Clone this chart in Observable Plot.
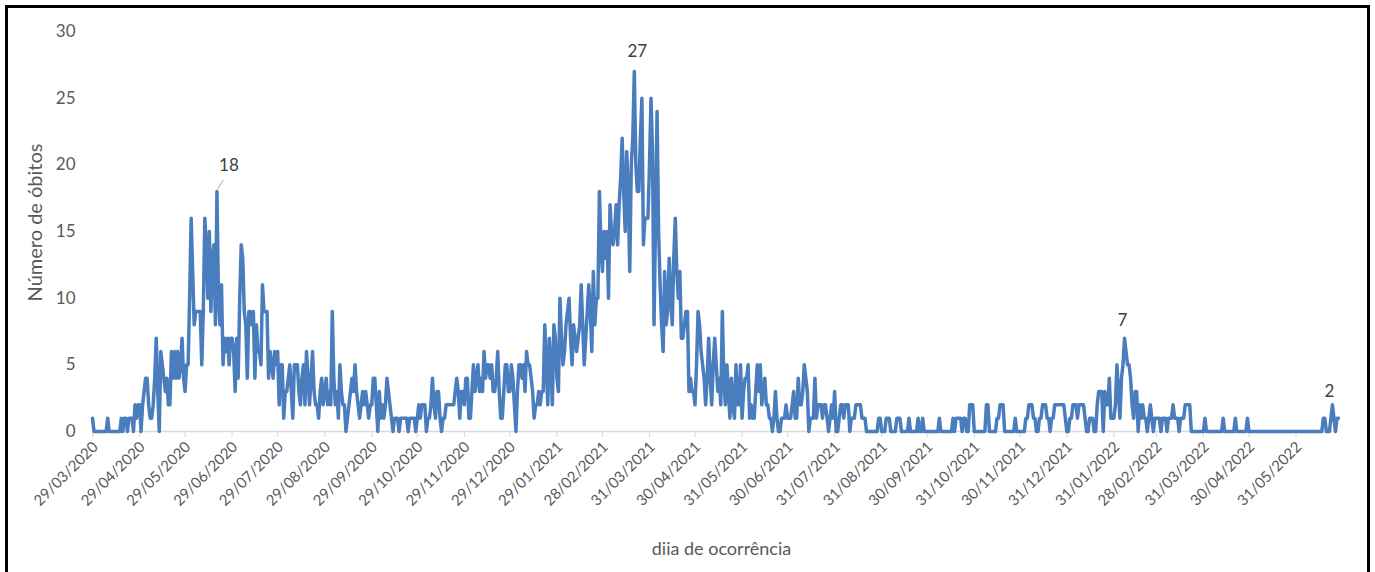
<!DOCTYPE html>
<html><head><meta charset="utf-8">
<script src="https://cdn.jsdelivr.net/npm/d3@7"></script>
<script src="https://cdn.jsdelivr.net/npm/@observablehq/plot@0.6"></script>
<style>
html,body{margin:0;padding:0;background:#fff;}
#wrap{position:relative;width:1375px;height:572px;overflow:hidden;background:#fff;}
#frame{position:absolute;left:5px;top:5px;width:1359px;height:600px;border:3px solid #000;}
#chart{position:absolute;left:0;top:0;}
</style></head><body>
<div id="wrap"><div id="frame"></div><div id="chart"></div></div>
<script>
// Daily deaths, one array per calendar month (first month starts 29/03/2020)
const mar2020 = [1,0,0];
const apr2020 = [0,0,0,0,0,0,0,1,0,0,0,0,0,0,0,0,1,0,1,1,0,1,1,1,0,2,1,2,2,0];
const may2020 = [2,3,4,4,2,1,1,2,4,7,3,0,6,5,4,3,4,2,2,6,4,6,4,6,4,5,7,4,3,5,5];
const jun2020 = [10,16,12,8,9,9,9,9,5,9,16,14,10,15,9,13,14,8,18,10,8,11,5,7,6,7,5,7,7,6];
const jul2020 = [3,7,4,10,14,13,9,8,4,9,9,8,9,4,8,6,6,5,11,9,9,9,4,6,5,4,6,5,6,2,5];
const aug2020 = [5,1,3,3,4,5,3,1,5,5,5,3,2,4,5,2,6,4,2,4,6,3,2,2,1,3,4,2,3,4,2];
const sep2020 = [3,2,9,4,2,3,1,5,3,2,2,0,1,2,3,4,3,5,3,2,1,2,3,2,3,2,1,2,2,4];
const oct2020 = [4,2,0,3,1,2,1,2,4,3,2,1,0,1,1,1,0,1,1,1,1,1,0,1,1,1,1,0,1,2,1];
const nov2020 = [2,2,2,0,1,1,2,4,2,1,3,3,1,0,1,1,2,2,2,2,2,2,3,4,3,1,3,3,2,4];
const dec2020 = [4,1,1,3,5,3,4,5,3,4,3,6,4,5,5,4,5,3,3,4,6,3,1,1,3,5,5,3,3,5,4];
const jan2021 = [2,0,3,5,5,4,5,3,6,5,5,4,3,1,2,2,3,2,3,3,8,5,2,7,5,2,8,7,4,3,10];
const feb2021 = [7,5,6,8,9,10,7,5,8,7,6,7,8,11,8,5,7,9,11,9,6,12,8,10,10,18,14,12];
const mar2021 = [15,13,15,10,17,15,14,15,17,14,17,19,22,18,15,21,18,12,20,22,27,20,18,18,22,25,14,16,16,16,20];
const apr2021 = [25,21,8,16,24,15,11,8,6,12,8,9,13,10,8,13,16,12,10,12,7,7,8,9,9,3,4,3,3,2];
const may2021 = [5,9,8,6,5,4,2,4,7,4,2,5,7,5,3,4,2,9,4,2,5,3,1,4,2,1,5,2,2,5,1];
const jun2021 = [3,4,4,5,1,2,1,1,3,5,3,5,2,3,4,2,2,1,1,0,1,3,1,0,0,1,1,1,2,1];
const jul2021 = [1,1,2,3,1,1,4,2,2,3,5,4,3,0,1,1,1,4,1,2,2,2,1,2,2,1,0,1,2,1,3];
const aug2021 = [0,0,1,2,2,1,2,2,2,0,1,1,1,2,2,2,2,1,1,1,0,0,0,0,0,0,0,0,1,1,0];
const sep2021 = [0,0,1,1,1,0,0,0,0,1,1,1,0,0,0,0,0,1,0,0,0,0,0,1,0,0,1,0,0,0];
const oct2021 = [0,0,0,0,0,0,0,1,0,0,0,0,0,0,0,0,1,0,1,1,1,1,0,1,1,0,0,2,2,2,0];
const nov2021 = [0,0,0,0,0,0,0,2,2,0,0,0,0,0,1,1,2,2,2,0,0,0,0,0,0,0,1,0,0,0];
const dec2021 = [0,0,0,1,1,2,2,2,1,1,0,0,1,1,2,2,2,1,1,0,1,1,2,2,2,2,2,2,2,1,0];
const jan2022 = [0,1,1,2,2,2,1,2,2,2,2,1,0,0,1,1,1,0,0,2,3,3,3,0,3,2,2,4,1,1,1];
const feb2022 = [2,5,3,1,4,5,7,6,5,5,4,2,1,3,3,0,2,1,2,1,1,0,1,2,1,0,1,1];
const mar2022 = [1,1,0,1,1,1,0,1,1,1,2,1,1,1,0,1,1,1,2,2,2,2,0,0,0,0,0,0,0,0,0];
const apr2022 = [1,0,0,0,0,0,0,0,0,0,0,0,1,0,0,0,0,0,0,0,1,0,0,0,0,0,0,0,1,0];
const may2022 = [0,0,0,0,0,0,0,0,0,0,0,0,0,0,0,0,0,0,0,0,0,0,0,0,0,0,0,0,0,0,0];
const jun2022 = [0,0,0,0,0,0,0,0,0,0,0,0,0,0,0,0,0,1,1,0,0,0,1,2,1,0,1,1];

const monthStarts = ["2020-03-29","2020-04-01","2020-05-01","2020-06-01","2020-07-01","2020-08-01","2020-09-01","2020-10-01","2020-11-01","2020-12-01",
  "2021-01-01","2021-02-01","2021-03-01","2021-04-01","2021-05-01","2021-06-01","2021-07-01","2021-08-01","2021-09-01","2021-10-01","2021-11-01","2021-12-01",
  "2022-01-01","2022-02-01","2022-03-01","2022-04-01","2022-05-01","2022-06-01"];
const monthValues = [mar2020,apr2020,may2020,jun2020,jul2020,aug2020,sep2020,oct2020,nov2020,dec2020,
  jan2021,feb2021,mar2021,apr2021,may2021,jun2021,jul2021,aug2021,sep2021,oct2021,nov2021,dec2021,
  jan2022,feb2022,mar2022,apr2022,may2022,jun2022];

const tickLabels = ["29/03/2020","29/04/2020","29/05/2020","29/06/2020","29/07/2020","29/08/2020","29/09/2020","29/10/2020","29/11/2020","29/12/2020",
  "29/01/2021","28/02/2021","31/03/2021","30/04/2021","31/05/2021","30/06/2021","31/07/2021","31/08/2021","30/09/2021","31/10/2021","30/11/2021","31/12/2021",
  "31/01/2022","28/02/2022","31/03/2022","30/04/2022","31/05/2022"];
const yTicks = [0,5,10,15,20,25,30];

const peakLabels = ["18","27","7","2"];
const peakDates = ["2020-06-19","2021-03-21","2022-02-07","2022-06-24"];
const peakValues = [18,27,7,2];

const DAY = 86400000;
const data = [];
monthStarts.forEach((s, m) => {
  const t0 = Date.parse(s + "T00:00:00Z");
  monthValues[m].forEach((v, i) => data.push({date: new Date(t0 + i * DAY), value: v}));
});
const parseDMY = s => { const [d, mo, y] = s.split("/").map(Number); return new Date(Date.UTC(y, mo - 1, d)); };
const tickDates = tickLabels.map(parseDMY);
const labelOf = new Map(tickDates.map((d, i) => [+d, tickLabels[i]]));
const peaks = peakLabels.map((l, i) => ({label: l, date: new Date(peakDates[i] + "T00:00:00Z"), value: peakValues[i]}));
const peakDx = [12, 3, -2, -3];
const peakDy = [-26, -20, -18, -13];

const font = "Lato, 'Open Sans', sans-serif";
const chart = Plot.plot({
  width: 1375, height: 572,
  marginLeft: 92, marginRight: 37, marginTop: 31, marginBottom: 141,
  style: {fontFamily: font, background: "transparent", color: "#595959", overflow: "visible"},
  x: {type: "utc", domain: [data[0].date, data[data.length - 1].date]},
  y: {domain: [0, 30]},
  marks: [
    Plot.ruleY([0], {stroke: "#d9d9d9", strokeWidth: 1.5}),
    Plot.axisY(yTicks, {tickSize: 0, tickPadding: 17, fontSize: 17, fill: "#595959", label: null}),
    Plot.axisX(tickDates, {tickSize: 6, stroke: "#d9d9d9", tickFormat: () => "", label: null}),
    Plot.axisX(tickDates, {tickSize: 0, tickFormat: d => labelOf.get(+d), tickRotate: -45, tickPadding: 13, dx: 3, fontSize: 15, fill: "#595959", label: null}),
    Plot.line(data, {x: "date", y: "value", stroke: "#4a7dbd", strokeWidth: 3.5, strokeLinejoin: "round", strokeLinecap: "round"}),
    (index, scales) => {
      const p = peaks[0];
      const px = scales.x(p.date), py = scales.y(p.value);
      return d3.create("svg:line").attr("x1", px + 1).attr("y1", py - 2).attr("x2", px + 7).attr("y2", py - 11)
        .attr("stroke", "#a6a6a6").attr("stroke-width", 1).node();
    },
    ...peaks.map((p, i) => Plot.text([p], {x: "date", y: "value", text: "label", dx: peakDx[i], dy: peakDy[i], fontSize: 17, fill: "#404040"})),
    Plot.text(["Número de óbitos"], {frameAnchor: "left", textAnchor: "middle", lineAnchor: "middle", rotate: -90, dx: -57, dy: -9, fontSize: 20, fill: "#595959"}),
    Plot.text(["diia de ocorrência"], {frameAnchor: "bottom", textAnchor: "middle", lineAnchor: "middle", dx: 6, dy: 118, fontSize: 18, fill: "#595959"})
  ]
});
document.getElementById("chart").appendChild(chart);
</script></body></html>
